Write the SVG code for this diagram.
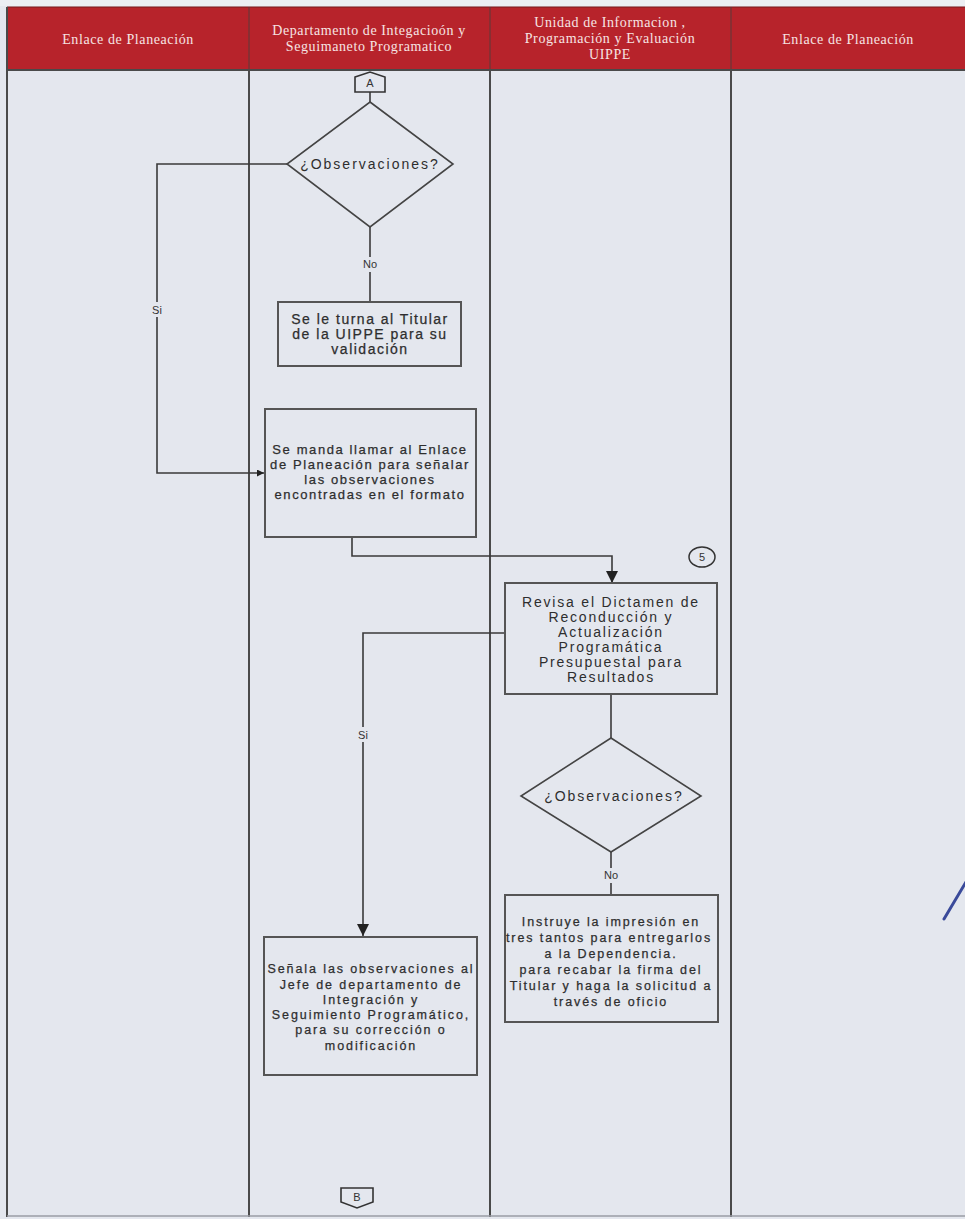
<svg xmlns="http://www.w3.org/2000/svg" width="965" height="1219" viewBox="0 0 965 1219">
<style>
.hdr{font-family:"Liberation Serif","Times New Roman",serif;font-size:14px;fill:#f6e3e3;text-anchor:middle;letter-spacing:0.6px}
.lane{stroke:#4a4a4a;stroke-width:2;fill:none}
.box{fill:none;stroke:#555;stroke-width:2}
.t{font-family:"Liberation Sans",Arial,sans-serif;fill:#2e2e2e;text-anchor:middle;stroke:#2e2e2e;stroke-width:0.25}
.t14{font-size:14px;letter-spacing:1.5px}
.t13{font-size:13px;letter-spacing:1.6px}
.t3{font-size:14px;letter-spacing:1.8px;stroke-width:0}
.t12{font-size:12.5px;letter-spacing:1.9px}
.dec{font-size:14px;letter-spacing:2px;stroke-width:0}
.lbl{font-family:"Liberation Sans",Arial,sans-serif;font-size:11px;fill:#333;text-anchor:middle}
.con{fill:none;stroke:#3a3a3a;stroke-width:1.6}
</style>
<defs>
<marker id="arr" viewBox="0 0 10 10" refX="10" refY="5" markerWidth="7" markerHeight="7" orient="auto" markerUnits="userSpaceOnUse">
<path d="M0,0 L10,5 L0,10 z" fill="#222"/>
</marker>
<marker id="arrB" viewBox="0 0 10 10" refX="10" refY="5" markerWidth="12" markerHeight="12" orient="auto" markerUnits="userSpaceOnUse">
<path d="M0,0 L10,5 L0,10 z" fill="#222"/>
</marker>
</defs>
<rect x="0" y="0" width="965" height="1219" fill="#e4e7ee"/>
<rect x="0" y="0" width="965" height="6" fill="#eceef3"/>
<!-- header -->
<g id="header">
<rect x="7" y="7" width="960" height="63" fill="#b7232b"/>
<line x1="7" y1="7" x2="965" y2="7" stroke="#7a1a1e" stroke-width="1"/>
<line x1="249" y1="7" x2="249" y2="70" stroke="#5a3a3a" stroke-width="1"/>
<line x1="490" y1="7" x2="490" y2="70" stroke="#5a3a3a" stroke-width="1"/>
<line x1="731" y1="7" x2="731" y2="70" stroke="#5a3a3a" stroke-width="1"/>
<text class="hdr" x="128" y="44">Enlace de Planeación</text>
<text class="hdr" x="369" y="35">Departamento de Integacioón y</text>
<text class="hdr" x="369" y="51">Seguimaneto Programatico</text>
<text class="hdr" x="610" y="27">Unidad de  Informacion ,</text>
<text class="hdr" x="610" y="43">Programación y Evaluación</text>
<text class="hdr" x="610" y="59">UIPPE</text>
<text class="hdr" x="848" y="44">Enlace de Planeación</text>
</g>
<!-- lanes -->
<g id="lanes">
<line class="lane" x1="7" y1="70" x2="965" y2="70"/>
<line class="lane" x1="7" y1="7" x2="7" y2="1217"/>
<line class="lane" x1="249" y1="70" x2="249" y2="1217"/>
<line class="lane" x1="490" y1="70" x2="490" y2="1217"/>
<line class="lane" x1="731" y1="70" x2="731" y2="1217"/>
<line x1="7" y1="1216" x2="965" y2="1216" stroke="#9a9ca4" stroke-width="1.5"/>
</g>
<!-- connectors -->
<g id="connectors">
<line class="con" x1="370" y1="92" x2="370" y2="102"/>
<polyline class="con" points="287,164 157,164 157,473 264,473" marker-end="url(#arr)"/>
<line class="con" x1="370" y1="227" x2="370" y2="302"/>
<polyline class="con" points="352,537 352,556 612,556 612,583" marker-end="url(#arrB)"/>
<polyline class="con" points="505,633 363,633 363,936" marker-end="url(#arrB)"/>
<line class="con" x1="611" y1="694" x2="611" y2="738"/>
<line class="con" x1="611" y1="852" x2="611" y2="895"/>
<rect x="150" y="302" width="15" height="15" fill="#e4e7ee"/>
<text class="lbl" x="157" y="314">Si</text>
<rect x="356" y="727" width="15" height="15" fill="#e4e7ee"/>
<text class="lbl" x="363" y="739">Si</text>
<rect x="360" y="257" width="20" height="15" fill="#e4e7ee"/>
<text class="lbl" x="370" y="268">No</text>
<rect x="601" y="868" width="20" height="15" fill="#e4e7ee"/>
<text class="lbl" x="611" y="879">No</text>
</g>
<!-- nodes -->
<g id="conA">
<path d="M355,77 L370,72 L385,77 L385,92 L355,92 Z" fill="none" stroke="#333" stroke-width="1.6"/>
<text class="lbl" x="370" y="87">A</text>
</g>
<g id="dec1">
<path d="M370,102 L453,164 L370,227 L287,164 Z" fill="none" stroke="#444" stroke-width="1.6"/>
<text class="t dec" x="370" y="169">¿Observaciones?</text>
</g>
<g id="box1">
<rect class="box" x="278" y="302" width="183" height="64"/>
<text class="t t14" x="370" y="324">Se le turna al Titular</text>
<text class="t t14" x="370" y="339">de la UIPPE para su</text>
<text class="t t14" x="370" y="354">validación</text>
</g>
<g id="box2">
<rect class="box" x="265" y="409" width="211" height="128"/>
<text class="t t13" x="370" y="454">Se manda llamar al Enlace</text>
<text class="t t13" x="370" y="469">de Planeación para señalar</text>
<text class="t t13" x="370" y="484">las observaciones</text>
<text class="t t13" x="370" y="499">encontradas en el formato</text>
</g>
<g id="ref5">
<ellipse cx="702" cy="557" rx="13" ry="10" fill="none" stroke="#333" stroke-width="1.5"/>
<text class="lbl" x="702" y="561" font-size="10">5</text>
</g>
<g id="box3">
<rect class="box" x="505" y="583" width="212" height="111"/>
<text class="t t3" x="611" y="607">Revisa el Dictamen de</text>
<text class="t t3" x="611" y="622">Reconducción y</text>
<text class="t t3" x="611" y="637">Actualización</text>
<text class="t t3" x="611" y="652">Programática</text>
<text class="t t3" x="611" y="667">Presupuestal para</text>
<text class="t t3" x="611" y="682">Resultados</text>
</g>
<g id="dec2">
<path d="M611,738 L701,796 L611,852 L521,796 Z" fill="none" stroke="#444" stroke-width="1.6"/>
<text class="t dec" x="614" y="801">¿Observaciones?</text>
</g>
<g id="box5">
<rect class="box" x="505" y="895" width="213" height="127"/>
<text class="t t12" x="611" y="926">Instruye la impresión en</text>
<text class="t t12" x="609" y="942">tres tantos para entregarlos</text>
<text class="t t12" x="611" y="958">a la Dependencia.</text>
<text class="t t12" x="611" y="974">para recabar la firma del</text>
<text class="t t12" x="611" y="990">Titular y haga la solicitud a</text>
<text class="t t12" x="611" y="1006">través de oficio</text>
</g>
<g id="box4">
<rect class="box" x="264" y="937" width="213" height="138"/>
<text class="t t12" x="371" y="973">Señala las observaciones al</text>
<text class="t t12" x="371" y="989">Jefe de departamento de</text>
<text class="t t12" x="371" y="1004">Integración y</text>
<text class="t t12" x="371" y="1019">Seguimiento Programático,</text>
<text class="t t12" x="371" y="1034">para su corrección o</text>
<text class="t t12" x="371" y="1050">modificación</text>
</g>
<g id="conB">
<path d="M341,1188 L373,1188 L373,1202 L357,1208 L341,1202 Z" fill="none" stroke="#333" stroke-width="1.6"/>
<text class="lbl" x="357" y="1201">B</text>
</g>
<g id="penmark">
<line x1="944" y1="919" x2="966" y2="882" stroke="#3a4a9a" stroke-width="3" stroke-linecap="round"/>
</g>
</svg>
